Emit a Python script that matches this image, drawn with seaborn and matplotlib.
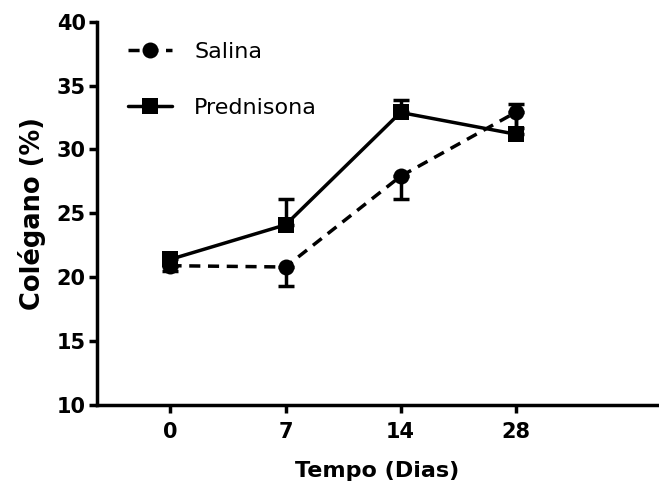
import matplotlib
matplotlib.use("Agg")
import matplotlib.pyplot as plt
import numpy as np
import pandas as pd
import seaborn as sns

sns.set_style("ticks")
plt.rcParams['font.family'] = ['DejaVu Sans']
plt.rcParams['text.color'] = 'black'
plt.rcParams['axes.labelcolor'] = 'black'
plt.rcParams['xtick.color'] = 'black'
plt.rcParams['ytick.color'] = 'black'
plt.rcParams['axes.edgecolor'] = 'black'

# data
dias = ["0", "7", "14", "28"]
salina = [20.9, 20.8, 27.9, 32.9]
salina_err = [0.4, 1.5, 1.8, 1.2]      # drawn below only
prednisona = [21.4, 24.1, 32.9, 31.2]
prednisona_err = [0.2, 2.0, 1.0, 2.4]  # drawn above only

pos = np.arange(len(dias))
df = pd.DataFrame({
    "pos": np.concatenate([pos, pos]),
    "val": salina + prednisona,
    "grupo": ["Salina"] * 4 + ["Prednisona"] * 4,
})

fig, ax = plt.subplots(figsize=(6.59, 4.95), dpi=100)
fig.subplots_adjust(left=0.147, right=0.997, bottom=0.182, top=0.956)

ax.errorbar(pos, prednisona, yerr=[np.zeros(4), prednisona_err], fmt="none",
            ecolor="black", elinewidth=2.5, capsize=6, capthick=2.5, zorder=2)
ax.errorbar(pos, salina, yerr=[salina_err, np.zeros(4)], fmt="none",
            ecolor="black", elinewidth=2.5, capsize=6, capthick=2.5, zorder=2)

sns.lineplot(data=df, x="pos", y="val", hue="grupo", style="grupo",
             palette={"Salina": "black", "Prednisona": "black"},
             markers={"Salina": "o", "Prednisona": "s"},
             dashes={"Salina": (3.2, 2.2), "Prednisona": ""},
             linewidth=2.5, markersize=11.5, markeredgewidth=0, ax=ax, zorder=3)

ax.set_xlim(-0.64, 4.23)
ax.set_ylim(10, 40)
ax.set_xticks(pos)
ax.set_xticklabels(dias)
ax.set_yticks(np.arange(10, 41, 5))
ax.tick_params(axis="both", width=2.5, length=6, direction="out", labelsize=15)
ax.tick_params(axis="x", pad=6)
ax.tick_params(axis="y", pad=2)
for lab in ax.get_xticklabels() + ax.get_yticklabels():
    lab.set_fontweight("bold")
sns.despine(ax=ax)
for s in ["left", "bottom"]:
    ax.spines[s].set_linewidth(2.5)

ax.set_xlabel("Tempo (Dias)", fontsize=16, fontweight="bold", labelpad=14)
ax.set_ylabel("Colégano (%)", fontsize=18.5, fontweight="bold", labelpad=8)

leg = ax.legend(loc="upper left", bbox_to_anchor=(0.055, 0.947), frameon=False,
                borderaxespad=0, borderpad=0,
                fontsize=16, labelspacing=1.6, handlelength=2.0, handletextpad=1.0)
for h in leg.legend_handles:
    h.set_color("black")

fig.savefig("out.png", dpi=100)
